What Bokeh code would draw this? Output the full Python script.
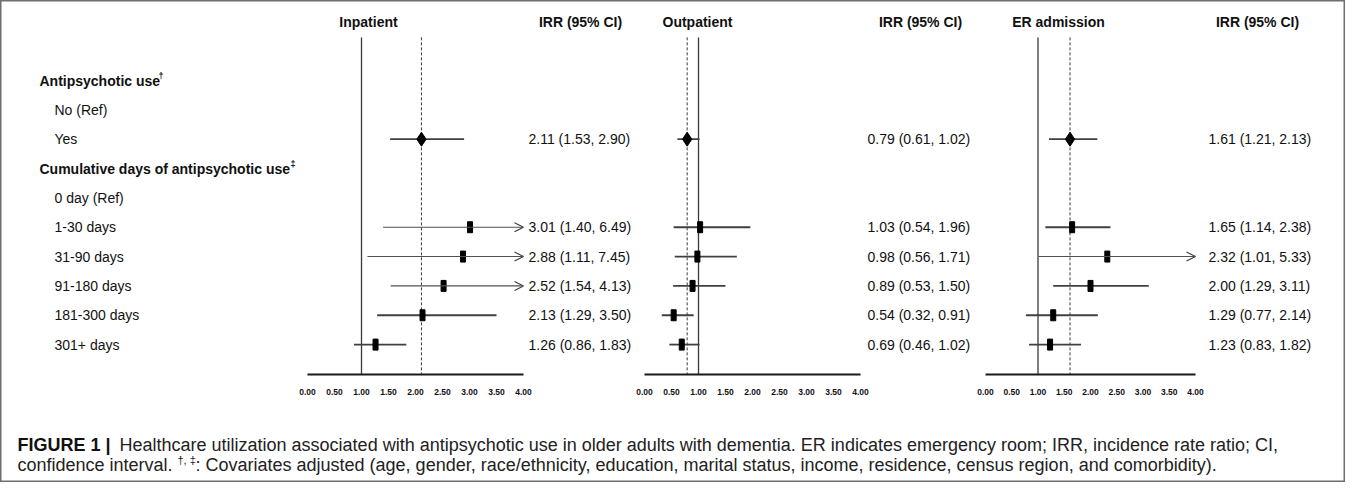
from bokeh.plotting import figure
from bokeh.models import Range1d, ColumnDataSource, Arrow, OpenHead
from bokeh.embed import file_html
from bokeh.resources import INLINE
from bokeh.core.properties import value

# ---------------- data ----------------
row_labels = ["Antipsychotic use", "No (Ref)", "Yes",
              "Cumulative days of antipsychotic use", "0 day (Ref)",
              "1-30 days", "31-90 days", "91-180 days", "181-300 days", "301+ days"]
row_notes = ["\u2020", "", "", "\u2021", "", "", "", "", "", ""]
row_is_header = [True, False, False, True, False, False, False, False, False, False]
estimate_rows = ["Yes", "1-30 days", "31-90 days", "91-180 days", "181-300 days", "301+ days"]

panel_titles = ["Inpatient", "Outpatient", "ER admission"]
ci_header = "IRR (95% CI)"

inp_irr = [2.11, 3.01, 2.88, 2.52, 2.13, 1.26]
inp_lo = [1.53, 1.40, 1.11, 1.54, 1.29, 0.86]
inp_hi = [2.90, 6.49, 7.45, 4.13, 3.50, 1.83]

out_irr = [0.79, 1.03, 0.98, 0.89, 0.54, 0.69]
out_lo = [0.61, 0.54, 0.56, 0.53, 0.32, 0.46]
out_hi = [1.02, 1.96, 1.71, 1.50, 0.91, 1.02]

er_irr = [1.61, 1.65, 2.32, 2.00, 1.29, 1.23]
er_lo = [1.21, 1.14, 1.01, 1.29, 0.77, 0.83]
er_hi = [2.13, 2.38, 5.33, 3.11, 2.14, 1.82]

tick_values = [0.0, 0.5, 1.0, 1.5, 2.0, 2.5, 3.0, 3.5, 4.0]
tick_labels = ["0.00", "0.50", "1.00", "1.50", "2.00", "2.50", "3.00", "3.50", "4.00"]
null_value = 1.0
axis_max = 4.0

caption_bold = "FIGURE 1 |"
caption_line1 = ("Healthcare utilization associated with antipsychotic use in older adults with dementia. "
                 "ER indicates emergency room; IRR, incidence rate ratio; CI,")
caption_line2a = "confidence interval."
caption_notes = "\u2020, \u2021"
caption_line2b = (": Covariates adjusted (age, gender, race/ethnicity, education, "
                  "marital status, income, residence, census region, and comorbidity).")

# ---------------- layout / style ----------------
W, H = 1345, 482
FONT = value("Liberation Sans")
INK = "#111111"
LINE = "#3a3a3a"

p = figure(width=W, height=H, x_range=Range1d(0, W), y_range=Range1d(13.70, -2.727),
           output_backend="svg", toolbar_location=None, min_border=0,
           x_axis_location=None, y_axis_location=None)
p.grid.visible = False
p.outline_line_color = "#6e6e6e"
p.outline_line_width = 2
p.background_fill_color = "white"
p.border_fill_color = "white"

row_y = {lab: i for i, lab in enumerate(row_labels)}
est_y = [row_y[r] for r in estimate_rows]
top_y, base_y, tick_y, head_y = -1.47, 10.02, 10.62, -1.98

# left labels
lab_x = [39 if h else 54 for h in row_is_header]
hdr = [i for i, h in enumerate(row_is_header) if h]
sub = [i for i, h in enumerate(row_is_header) if not h]
p.text(x=[lab_x[i] for i in hdr], y=hdr, text=[row_labels[i] for i in hdr], text_font=FONT,
       text_font_size="14px", text_font_style="bold", text_baseline="middle", text_color=INK)
p.text(x=[lab_x[i] for i in sub], y=sub, text=[row_labels[i] for i in sub], text_font=FONT,
       text_font_size="14px", text_baseline="middle", text_color=INK)
note_x = [158, 290]
p.text(x=note_x, y=[hdr[0] - 0.17, hdr[1] - 0.17], text=[row_notes[i] for i in hdr], text_font=FONT,
       text_font_size="9px", text_font_style="bold", text_baseline="middle", text_color=INK)

# panel geometry (frame pixels)
zero_px = [307, 644, 985]
px_unit = [54, 54, 52.5]
title_x = [368, 697, 1058]
irr_head_x = [580, 920, 1257]
value_x = [528, 867, 1208]

series = [(inp_irr, inp_lo, inp_hi), (out_irr, out_lo, out_hi), (er_irr, er_lo, er_hi)]
names = ["inp", "out", "er"]
for k, name in enumerate(names):
    p.extra_x_ranges[name] = Range1d(-zero_px[k] / px_unit[k], (W - zero_px[k]) / px_unit[k])

for k, name in enumerate(names):
    irr, lo, hi = series[k]
    ref = irr[0]
    # reference lines
    p.segment(x0=[null_value], y0=[top_y], x1=[null_value], y1=[base_y], x_range_name=name,
              line_color=LINE, line_width=1.3)
    p.segment(x0=[ref], y0=[top_y], x1=[ref], y1=[base_y], x_range_name=name,
              line_color=LINE, line_width=1, line_dash="3 2")
    # baseline axis
    p.segment(x0=[tick_values[0]], y0=[base_y], x1=[axis_max], y1=[base_y], x_range_name=name,
              line_color="#1a1a1a", line_width=2)
    p.text(x=tick_values, y=[tick_y] * len(tick_values), text=tick_labels, x_range_name=name,
           text_font=FONT, text_font_size="8.5px", text_font_style="bold",
           text_align="center", text_baseline="middle", text_color=INK)
    # CIs
    inside = [i for i in range(len(irr)) if hi[i] <= axis_max]
    p.segment(x0=[lo[i] for i in inside], y0=[est_y[i] for i in inside],
              x1=[hi[i] for i in inside], y1=[est_y[i] for i in inside],
              x_range_name=name, line_color="#404040", line_width=1.8)
    for i in range(len(irr)):
        if hi[i] > axis_max:
            p.add_layout(Arrow(end=OpenHead(size=9, line_width=1.1, line_color=LINE),
                               x_start=lo[i], y_start=est_y[i], x_end=axis_max, y_end=est_y[i],
                               x_range_name=name, line_color="#505050", line_width=1.1))
    # point estimates
    p.scatter(x=[irr[0]], y=[est_y[0]], marker="diamond", size=14, x_range_name=name,
              fill_color="black", line_color="black")
    p.rect(x=irr[1:], y=est_y[1:], width=5, height=11, width_units="screen", height_units="screen",
           x_range_name=name, fill_color="black", line_color="black")
    # value texts
    txt = [f"{irr[i]:.2f} ({lo[i]:.2f}, {hi[i]:.2f})" for i in range(len(irr))]
    p.text(x=[value_x[k]] * len(txt), y=est_y, text=txt, text_font=FONT, text_font_size="14px",
           text_baseline="middle", text_color=INK)
    # headers
    p.text(x=[title_x[k]], y=[head_y], text=[panel_titles[k]], text_font=FONT,
           text_font_size="14px", text_font_style="bold", text_align="center",
           text_baseline="middle", text_color=INK)
    p.text(x=[irr_head_x[k]], y=[head_y], text=[ci_header], text_font=FONT,
           text_font_size="14px", text_font_style="bold", text_align="center",
           text_baseline="middle", text_color=INK)

# caption
cap_y1, cap_y2 = 12.41, 13.12
CAP = "#222222"
p.text(x=[17], y=[cap_y1], text=[caption_bold], text_font=FONT, text_font_size="18px",
       text_font_style="bold", text_baseline="middle", text_color="#111111")
p.text(x=[119], y=[cap_y1], text=[caption_line1], text_font=FONT, text_font_size="18px",
       text_baseline="middle", text_color=CAP)
p.text(x=[17], y=[cap_y2], text=[caption_line2a], text_font=FONT, text_font_size="18px",
       text_baseline="middle", text_color=CAP)
p.text(x=[177], y=[cap_y2 - 0.2], text=[caption_notes], text_font=FONT, text_font_size="11px",
       text_baseline="middle", text_color=CAP)
p.text(x=[195], y=[cap_y2], text=[caption_line2b], text_font=FONT, text_font_size="18px",
       text_baseline="middle", text_color=CAP)

open("out.html", "w").write(file_html(p, INLINE))
